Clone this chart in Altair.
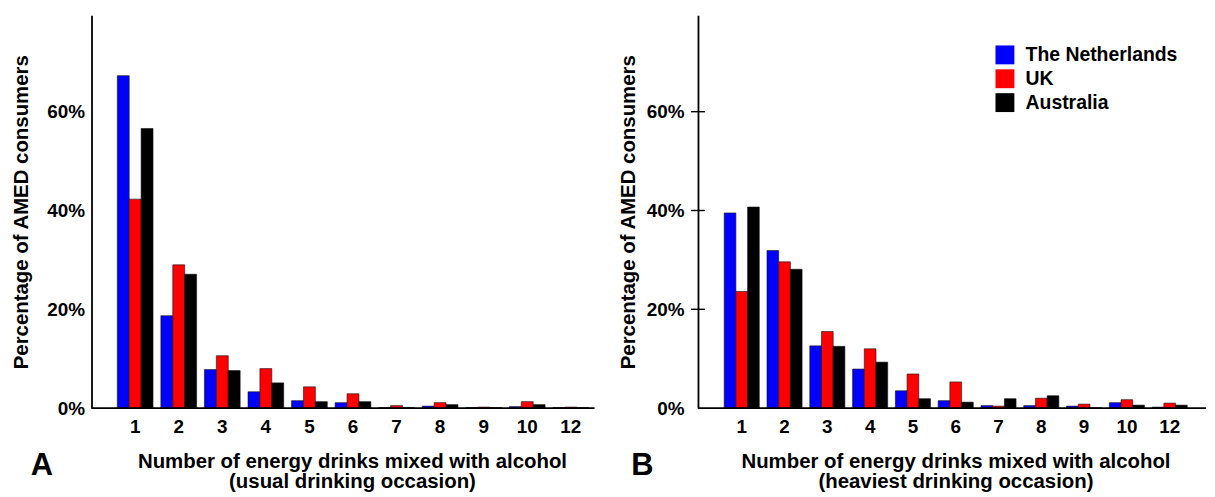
import altair as alt
import pandas as pd

categories = ["1", "2", "3", "4", "5", "6", "7", "8", "9", "10", "12"]
countries = ["The Netherlands", "UK", "Australia"]
colors = ["#0000ff", "#ff0000", "#000000"]

# Panel A: usual drinking occasion (percent)
usual_nl = [67.3, 18.7, 7.8, 3.3, 1.5, 1.1, 0.1, 0.4, 0.1, 0.3, 0.1]
usual_uk = [42.3, 29.0, 10.6, 8.0, 4.3, 2.9, 0.5, 1.1, 0.2, 1.3, 0.2]
usual_au = [56.6, 27.1, 7.6, 5.1, 1.3, 1.3, 0.1, 0.7, 0.1, 0.7, 0.1]

# Panel B: heaviest drinking occasion (percent)
heavy_nl = [39.5, 31.9, 12.6, 7.9, 3.5, 1.5, 0.5, 0.5, 0.4, 1.1, 0.2]
heavy_uk = [23.6, 29.6, 15.5, 12.0, 6.9, 5.3, 0.4, 2.0, 0.8, 1.7, 1.0]
heavy_au = [40.7, 28.1, 12.5, 9.3, 1.9, 1.2, 1.9, 2.5, 0.05, 0.6, 0.6]

y_ticks = [0, 0.2, 0.4, 0.6]
Y_TITLE = "Percentage of AMED consumers"
FONT = "Liberation Sans"
H = 395
YSCALE = alt.Scale(domain=[0, 0.795], nice=False)


def long_df(nl, uk, au):
    rows = []
    for c, vals in zip(countries, [nl, uk, au]):
        for n, v in zip(categories, vals):
            rows.append({"n": n, "country": c, "v": v / 100})
    return pd.DataFrame(rows)


def panel(df, x_title, letter, width, band_range, legend, label_pad, ticks, letter_x, title_x):
    bars = alt.Chart(df).mark_bar(stroke="#111111", strokeWidth=0.6, opacity=1).encode(
        x=alt.X(
            "n:N",
            sort=categories,
            scale=alt.Scale(range=band_range, paddingInner=0.18, paddingOuter=0.09),
            axis=alt.Axis(
                title=x_title,
                domain=False,
                ticks=False,
                tickSize=0,
                labelAngle=0,
                labelPadding=19,
                labelBaseline="middle",
                labelFontSize=19,
                labelFontWeight="bold",
                labelColor="black",
                labelFont=FONT,
                titleFont=FONT,
                titleFontSize=20.5,
                titleFontWeight="bold",
                titleColor="black",
                titleLineHeight=20,
                titleBaseline="middle",
                titleX=title_x,
                titleY=54,
            ),
        ),
        xOffset=alt.XOffset("country:N", sort=countries,
                            scale=alt.Scale(domain=countries, paddingInner=0, paddingOuter=0)),
        y=alt.Y(
            "v:Q",
            scale=YSCALE,
            axis=alt.Axis(
                values=y_ticks,
                format=".0%",
                title=Y_TITLE,
                grid=False,
                ticks=False,
                tickSize=0,
                domainColor="black",
                domainWidth=1.8,
                labelPadding=label_pad,
                labelFontSize=19,
                labelFontWeight="bold",
                labelColor="black",
                labelFont=FONT,
                titleFont=FONT,
                titleFontSize=20.5,
                titleFontWeight="bold",
                titleColor="black",
                titleAngle=270,
                titleBaseline="middle",
                titleX=-70,
                titleY=H / 2,
            ),
        ),
        color=alt.Color("country:N", sort=countries,
                        scale=alt.Scale(domain=countries, range=colors), legend=legend),
    )
    baseline = alt.Chart(pd.DataFrame({"v": [0]})).mark_rule(color="black", strokeWidth=1.8).encode(
        y=alt.Y("v:Q", scale=YSCALE, title=Y_TITLE),
        x=alt.value(0),
        x2=alt.value(width),
    )
    lab = alt.Chart(pd.DataFrame({"t": [letter]})).mark_text(
        font=FONT, fontSize=31, fontWeight="bold", color="black", align="center", baseline="middle"
    ).encode(text="t:N", x=alt.value(letter_x), y=alt.value(H + 58))
    layers = [bars, baseline, lab]
    if ticks:
        tk = alt.Chart(pd.DataFrame({"v": y_ticks[1:]})).mark_rule(color="black", strokeWidth=1.4).encode(
            y=alt.Y("v:Q", scale=YSCALE, title=Y_TITLE),
            x=alt.value(-7),
            x2=alt.value(7),
        )
        layers.append(tk)
    return alt.layer(*layers).properties(width=width, height=H)


left = panel(
    long_df(usual_nl, usual_uk, usual_au),
    ["Number of energy drinks mixed with alcohol", "(usual drinking occasion)"],
    "A", 506, [22, 504], None, 7, False, -50, 262,
)

legend = alt.Legend(
    orient="none", legendX=299, legendY=30, title=None, symbolType="square",
    symbolSize=361, symbolStrokeWidth=0, symbolOpacity=1, labelFont=FONT,
    labelFontSize=19.5, labelFontWeight="bold", labelColor="black",
    labelOffset=11, rowPadding=3, padding=0,
)

right = panel(
    long_df(heavy_nl, heavy_uk, heavy_au),
    ["Number of energy drinks mixed with alcohol", "(heaviest drinking occasion)"],
    "B", 511, [22.5, 496], legend, 14, True, -56, 259,
)

chart = (
    alt.hconcat(left, right, spacing=22)
    .resolve_scale(x="independent", y="independent", color="independent", xOffset="independent")
    .resolve_legend(color="independent")
    .properties(padding={"left": 3, "top": 6, "right": 0, "bottom": 0}, background="white")
    .configure_view(stroke=None)
)

chart.save("out.html", embed_options={"renderer": "svg", "actions": False})
